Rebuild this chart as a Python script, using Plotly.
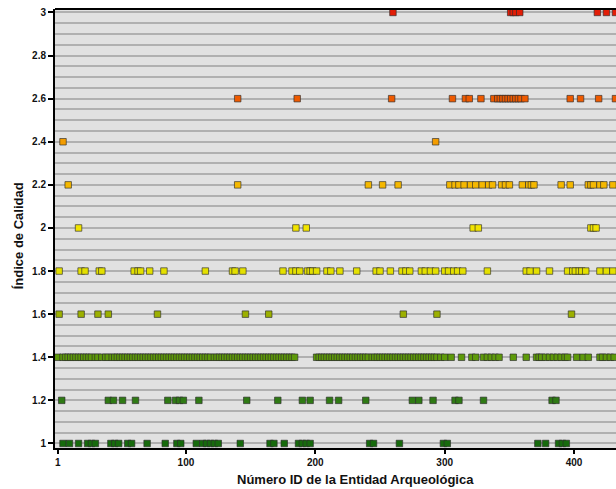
import plotly.graph_objects as go

# Quality index levels and the IDs of entities at each level
ids_q10 = [5, 10, 17, 24, 27, 30, 42, 45, 48, 55, 58, 70, 84, 93, 96, 108, 113, 116, 119, 122, 125,
           142, 165, 168, 176, 187, 190, 193, 196, 242, 245, 265, 299, 302, 372, 378, 388, 391, 394]
ids_q12 = [4, 40, 44, 51, 61, 86, 92, 95, 98, 110, 147, 171, 190, 196, 211, 218, 239, 275, 280, 291,
           308, 311, 330, 383, 386]
ids_q14 = [1, 5, 7, 9, 11, 13, 15, 17, 19, 21, 23, 25, 27, 30, 32, 35, 38, 40, 43, 45, 47, 49, 51, 53,
           55, 57, 59, 61, 63, 65, 67, 69, 71, 73, 75, 77, 79, 81, 83, 85, 87, 89, 91, 93, 95, 97, 99,
           101, 103, 105, 107, 109, 111, 113, 115, 117, 119, 122, 124, 126, 128, 130, 132, 134, 136,
           138, 140, 142, 144, 146, 148, 150, 152, 154, 156, 158, 160, 162, 164, 166, 168, 170, 172,
           174, 176, 178, 180, 182, 184, 201, 203, 205, 207, 209, 211, 213, 215, 217, 219, 221, 223,
           225, 227, 229, 231, 233, 235, 237, 239, 241, 244, 246, 248, 250, 252, 254, 256, 258, 260,
           262, 264, 266, 268, 270, 272, 274, 276, 278, 280, 282, 284, 286, 288, 290, 292, 294, 297,
           300, 305, 313, 321, 324, 330, 333, 336, 339, 342, 353, 363, 371, 373, 375, 378, 381, 384,
           387, 390, 393, 395, 402, 407, 411, 420, 422, 425, 428, 431]
ids_q16 = [2, 19, 32, 40, 78, 146, 164, 268, 294, 398]
ids_q18 = [2, 19, 22, 33, 35, 60, 63, 65, 72, 83, 115, 136, 138, 144, 175, 182, 185, 188, 194, 196,
           198, 201, 209, 212, 219, 232, 247, 250, 258, 267, 270, 273, 282, 285, 289, 293, 300, 303,
           307, 310, 314, 333, 363, 366, 371, 381, 395, 399, 401, 404, 406, 409, 420, 425, 430]
ids_q20 = [17, 185, 193, 322, 326, 413, 415, 417]
ids_q22 = [9, 140, 241, 252, 264, 304, 308, 311, 315, 320, 324, 329, 334, 337, 344, 347, 350, 360,
           365, 367, 369, 390, 397, 411, 413, 415, 420, 423, 430]
ids_q24 = [5, 293]
ids_q26 = [140, 186, 259, 306, 316, 319, 328, 338, 341, 343, 345, 347, 349, 351, 353, 355, 357,
           359, 362, 397, 405, 419, 432]
ids_q30 = [260, 351, 353, 355, 358, 418, 425, 432]

levels = [1.0, 1.2, 1.4, 1.6, 1.8, 2.0, 2.2, 2.4, 2.6, 3.0]
level_ids = [ids_q10, ids_q12, ids_q14, ids_q16, ids_q18, ids_q20, ids_q22, ids_q24, ids_q26, ids_q30]

x_ticks = [1, 100, 200, 300, 400]
y_ticks = [1, 1.2, 1.4, 1.6, 1.8, 2, 2.2, 2.4, 2.6, 2.8, 3]

xs, ys = [], []
for lv, ids in zip(levels, level_ids):
    xs.extend(ids)
    ys.extend([lv] * len(ids))

colorscale = [
    [0.0, "#166a0c"], [0.1, "#2f7a14"], [0.2, "#5e9a0a"], [0.3, "#9cb000"],
    [0.4, "#e4e000"], [0.5, "#f2e400"], [0.6, "#f5b800"], [0.7, "#f39c00"],
    [0.8, "#ee5a00"], [0.9, "#e83a00"], [1.0, "#e21d06"],
]

fig = go.Figure(go.Scatter(
    x=xs, y=ys, mode="markers",
    marker=dict(symbol="square", size=6.5, color=ys, colorscale=colorscale, cmin=1, cmax=3,
                line=dict(color="rgba(45,45,45,0.65)", width=1)),
    hoverinfo="x+y", showlegend=False,
))

tick_font = dict(family="Liberation Sans", size=10, color="#111", weight="bold")
title_font = dict(family="Liberation Sans", size=13, color="#111", weight="bold")

fig.update_layout(
    width=616, height=489,
    margin=dict(l=55, r=0, t=9, b=41),
    paper_bgcolor="white", plot_bgcolor="#e1e1e1",
    xaxis=dict(range=[-1.2, 432.4], tickvals=x_ticks, ticks="outside", ticklen=4, tickwidth=1.5,
               tickcolor="black", showgrid=False, zeroline=False, showline=True, linecolor="black",
               linewidth=2, tickfont=tick_font),
    yaxis=dict(range=[0.979, 3.016], tickvals=y_ticks, ticks="outside", ticklen=5, tickwidth=1.5,
               tickcolor="black", showgrid=True, gridcolor="#b0b0b0", gridwidth=1.6, zeroline=False,
               showline=True, linecolor="black", linewidth=2, tickfont=tick_font,
               minor=dict(dtick=0.05, tick0=1, showgrid=True, gridcolor="#b0b0b0", gridwidth=1.6, ticklen=0)),
    shapes=[dict(type="line", xref="paper", yref="paper", x0=0, x1=1, y0=1, y1=1,
                 line=dict(color="black", width=2))],
    annotations=[
        dict(text="Número ID de la Entidad Arqueológica", xref="paper", yref="paper",
             x=(355 - 55) / 561, y=-(479 - 447.5) / 438.5, xanchor="center", yanchor="middle",
             showarrow=False, font=title_font),
        dict(text="Índice de Calidad", xref="paper", yref="paper", textangle=-90,
             x=-(55 - 18) / 561, y=(447.5 - 236) / 438.5, xanchor="center", yanchor="middle",
             showarrow=False, font=title_font),
    ],
)

fig.write_html("out.html", config={"displayModeBar": False},
               post_script="document.body.style.margin='0';document.body.style.overflow='hidden';")
